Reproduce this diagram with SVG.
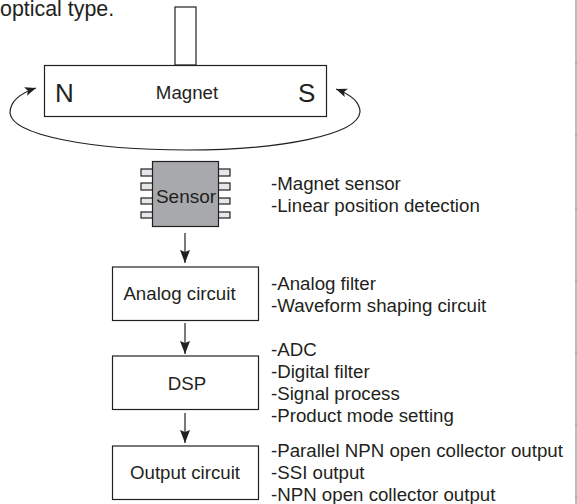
<svg xmlns="http://www.w3.org/2000/svg" width="577" height="504" viewBox="0 0 577 504">
<defs>
<marker id="ah" markerUnits="userSpaceOnUse" markerWidth="14" markerHeight="11" refX="13" refY="5.500" orient="auto" viewBox="0 0 14 11"><path d="M0 0.500 L2 5.500 L0 10.500 L13 5.500 Z" fill="#231f20"/></marker>
<marker id="cv" markerUnits="userSpaceOnUse" markerWidth="12" markerHeight="10" refX="11" refY="5" orient="auto-start-reverse" viewBox="0 0 12 10"><path d="M0 0.500 L11 5 L0 9.500 L2.500 5 Z" fill="#231f20"/></marker>
</defs>
<style>
text{font-family:"Liberation Sans",Arial,sans-serif;fill:#231f20;font-size:18.7px}
.b{fill:#fff;stroke:#231f20;stroke-width:1.2}
.c{fill:none;stroke:#231f20;stroke-width:1.2}
.p{fill:#e6e7e8;stroke:#231f20;stroke-width:1.2}
.g{fill:none;stroke:#a6a6a6;stroke-width:1.5}
</style>
<rect width="577" height="504" fill="#fff"/>
<g id="frame">
<path class="g" d="M576 0V504M575 63H577M575 135.500H577M575 208.500H577M575 280.500H577M575 352.500H577M575 424.500H577M575 497H577"/>
</g>
<text x="0" y="16" style="font-size:21.400px">optical type.</text>
<g id="magnet">
<rect class="b" x="175" y="7" width="21" height="58"/>
<rect class="b" x="44.500" y="65.500" width="282" height="51"/>
<text x="55" y="102" style="font-size:26px">N</text>
<text x="298" y="102" style="font-size:26px">S</text>
<text x="187" y="99" text-anchor="middle">Magnet</text>
</g>
<g id="sensor">
<rect class="p" x="141" y="169" width="12" height="7"/><rect class="p" x="141" y="183" width="12" height="7"/><rect class="p" x="141" y="198" width="12" height="6"/><rect class="p" x="141" y="212" width="12" height="6"/>
<rect class="p" x="218" y="169" width="12" height="7"/><rect class="p" x="218" y="183" width="12" height="7"/><rect class="p" x="218" y="198" width="12" height="6"/><rect class="p" x="218" y="212" width="12" height="6"/>
<rect x="152.500" y="161.500" width="66" height="65" fill="#a7a9ac" stroke="#231f20" stroke-width="1.200"/>
<text x="186" y="203" text-anchor="middle" style="font-size:19px">Sensor</text>
</g>
<g id="analog"><rect class="b" x="112.500" y="267" width="146" height="53.500"/><text x="179.500" y="300" text-anchor="middle">Analog circuit</text></g>
<g id="dsp"><rect class="b" x="112.500" y="356" width="146" height="53.500"/><text x="187" y="390" text-anchor="middle">DSP</text></g>
<g id="output"><rect class="b" x="112.500" y="446" width="146" height="53.500"/><text x="185" y="479" text-anchor="middle">Output circuit</text></g>
<g id="connectors">
<path class="c" marker-start="url(#cv)" marker-end="url(#cv)" d="M36 88C18 94 10 103 10 113C12 135 90 150 187 150C280 150 358 135 360 112C360 103 352 95 336 89"/>
<path class="c" marker-end="url(#ah)" d="M185 233V263"/>
<path class="c" marker-end="url(#ah)" d="M185 323V354"/>
<path class="c" marker-end="url(#ah)" d="M185 413V443"/>
</g>
<g id="notes">
<text x="271" y="190">-Magnet sensor</text>
<text x="271" y="212">-Linear position detection</text>
<text x="271" y="290">-Analog filter</text>
<text x="271" y="312">-Waveform shaping circuit</text>
<text x="271" y="356">-ADC</text>
<text x="271" y="378">-Digital filter</text>
<text x="271" y="400">-Signal process</text>
<text x="271" y="422">-Product mode setting</text>
<text x="271" y="457">-Parallel NPN open collector output</text>
<text x="271" y="479">-SSI output</text>
<text x="271" y="501">-NPN open collector output</text>
</g>
</svg>
